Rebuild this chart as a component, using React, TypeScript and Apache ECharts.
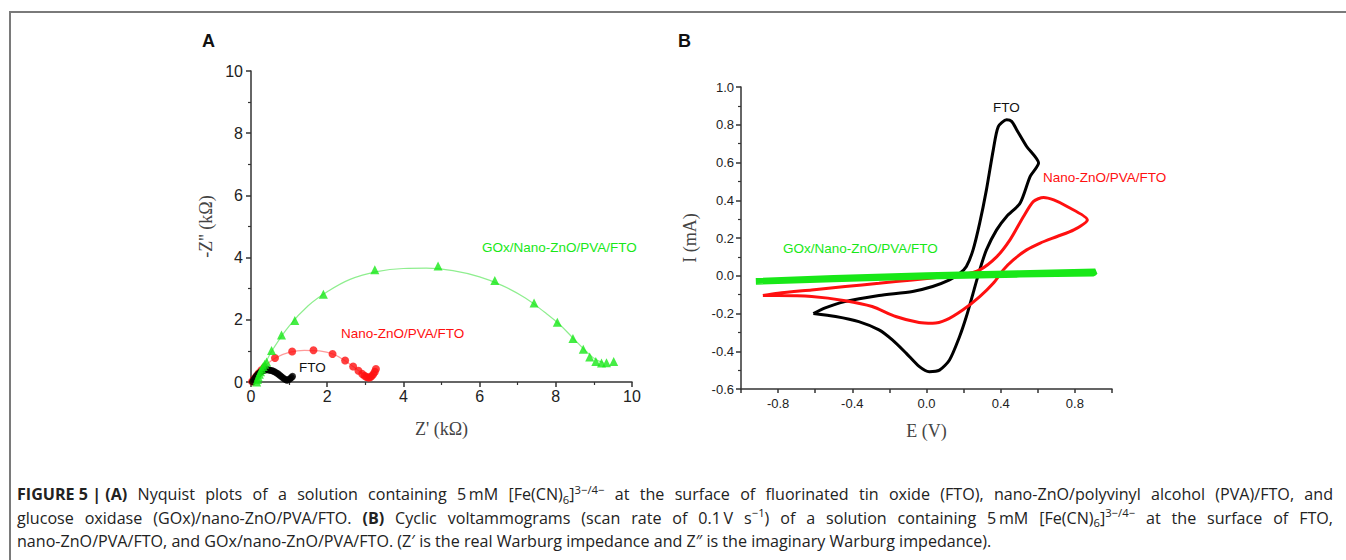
import React, { useEffect, useRef } from "react";
import * as echarts from "echarts";

// ---------- Panel A (Nyquist) ----------
const ftoNyquist = [
  [0.04, 0.01], [0.07, 0.07], [0.1, 0.13], [0.14, 0.19], [0.18, 0.25], [0.22, 0.29], [0.26, 0.33],
  [0.3, 0.36], [0.34, 0.38], [0.38, 0.39], [0.42, 0.4], [0.46, 0.39], [0.5, 0.38], [0.54, 0.37],
  [0.58, 0.35], [0.62, 0.33], [0.66, 0.3], [0.7, 0.27], [0.74, 0.23], [0.78, 0.19], [0.82, 0.15],
  [0.86, 0.11], [0.9, 0.08], [0.94, 0.06], [0.98, 0.07], [1.02, 0.1], [1.06, 0.14], [1.09, 0.18],
];
const znoNyquist = [
  [0.03, 0.02], [0.08, 0.1], [0.14, 0.19], [0.2, 0.28], [0.27, 0.38], [0.35, 0.47], [0.63, 0.77],
  [1.08, 0.98], [1.64, 1.02], [2.14, 0.9], [2.47, 0.69], [2.68, 0.5], [2.82, 0.36], [2.92, 0.26],
  [2.98, 0.2], [3.03, 0.16], [3.08, 0.14], [3.13, 0.15], [3.17, 0.19], [3.21, 0.25], [3.25, 0.33],
  [3.28, 0.42],
];
const znoFit = [
  [0.02, 0], [0.2, 0.3], [0.4, 0.55], [0.65, 0.78], [1.0, 0.95], [1.4, 1.02], [1.8, 1.0],
  [2.15, 0.9], [2.45, 0.7], [2.7, 0.48], [2.9, 0.3], [3.05, 0.18],
];
const goxNyquist = [
  [0.15, 0.0], [0.17, 0.08], [0.19, 0.16], [0.22, 0.25], [0.25, 0.33], [0.28, 0.42], [0.32, 0.5],
  [0.36, 0.57], [0.41, 0.64], [0.54, 1.01], [0.8, 1.51], [1.15, 1.98], [1.9, 2.82], [3.25, 3.61],
  [4.91, 3.73], [6.4, 3.26], [7.43, 2.54], [8.04, 1.92], [8.45, 1.4], [8.72, 1.05], [8.89, 0.8],
  [9.05, 0.66], [9.2, 0.61], [9.33, 0.62], [9.52, 0.66],
];
const goxFit = [
  [0.15, 0], [0.35, 0.55], [0.6, 1.1], [1.0, 1.8], [1.5, 2.45], [2.0, 2.9], [2.6, 3.3], [3.3, 3.55],
  [4.0, 3.65], [4.6, 3.66], [5.3, 3.58], [6.0, 3.38], [6.6, 3.1], [7.2, 2.7], [7.7, 2.25],
  [8.1, 1.85], [8.5, 1.35], [8.8, 0.98], [9.05, 0.72], [9.25, 0.62],
];

// ---------- Panel B (cyclic voltammograms) ----------
const ftoCV = [
  [-0.61, -0.2], [-0.546, -0.17], [-0.44, -0.137], [-0.256, -0.105], [-0.075, -0.083], [0.033, -0.057],
  [0.124, -0.022], [0.18, 0.013], [0.215, 0.049], [0.251, 0.137], [0.287, 0.28], [0.323, 0.455],
  [0.36, 0.667], [0.387, 0.79], [0.432, 0.826], [0.459, 0.818], [0.486, 0.774], [0.54, 0.685],
  [0.604, 0.597], [0.559, 0.526], [0.505, 0.385], [0.432, 0.314], [0.378, 0.243], [0.323, 0.137],
  [0.287, 0.031], [0.251, -0.093], [0.215, -0.216], [0.178, -0.323], [0.124, -0.446], [0.07, -0.5],
  [0.015, -0.508], [-0.04, -0.48], [-0.11, -0.41], [-0.184, -0.34], [-0.256, -0.287], [-0.365, -0.243],
  [-0.49, -0.216], [-0.61, -0.2],
];
const znoCV = [
  [-0.882, -0.105], [-0.8, -0.093], [-0.619, -0.075], [-0.438, -0.057], [-0.256, -0.04], [-0.075, -0.022],
  [0.106, -0.004], [0.197, 0.005], [0.287, 0.031], [0.378, 0.1], [0.45, 0.19], [0.523, 0.314],
  [0.577, 0.394], [0.631, 0.415], [0.686, 0.402], [0.758, 0.367], [0.867, 0.296], [0.794, 0.243],
  [0.704, 0.208], [0.613, 0.173], [0.54, 0.137], [0.468, 0.084], [0.414, 0.031], [0.36, -0.04],
  [0.287, -0.11], [0.197, -0.18], [0.106, -0.234], [0.033, -0.252], [-0.04, -0.248], [-0.166, -0.216],
  [-0.293, -0.163], [-0.438, -0.132], [-0.619, -0.11], [-0.8, -0.105], [-0.882, -0.105],
];
const goxCV = [
  [-0.92, -0.028], [-0.5, -0.012], [0, 0.003], [0.5, 0.013], [0.91, 0.022], [0.9, 0.012],
  [0.5, 0.006], [0, -0.004], [-0.5, -0.018], [-0.92, -0.032],
];

const captionLines = [
  "{b|FIGURE 5 | (A)} Nyquist plots of a solution containing 5\u2009mM [Fe(CN){sub|6}]{sup|3\u2212/4\u2212} at the surface of fluorinated tin oxide (FTO), nano-ZnO/polyvinyl alcohol (PVA)/FTO, and",
  "glucose oxidase (GOx)/nano-ZnO/PVA/FTO. {b|(B)} Cyclic voltammograms (scan rate of 0.1\u2009V s{sup|\u22121}) of a solution containing 5\u2009mM [Fe(CN){sub|6}]{sup|3\u2212/4\u2212} at the surface of FTO,",
  "nano-ZnO/PVA/FTO, and GOx/nano-ZnO/PVA/FTO. (Z\u2032 is the real Warburg impedance and Z\u2033 is the imaginary Warburg impedance).",
];

const BLACK = "#000000";
const RED = "#ff1010";
const GREEN = "#18e818";
const AXIS = "#333333";
const SANS = "'Liberation Sans', Arial, Helvetica, sans-serif";
const SERIF = "'Liberation Serif', 'Times New Roman', serif";
const CAP_FAMILY = "'Open Sans', 'Liberation Sans', sans-serif";

// caption layout helpers (text measurement only)
const CAP_LEFT = 17;
const CAP_RIGHT = 1333;
const LAST_LINE_RIGHT = 992;

function splitTokens(markup: string) {
  const out: { style: string; text: string }[] = [];
  const re = /\{(\w+)\|([^}]*)\}/g;
  let last = 0;
  let m: RegExpExecArray | null;
  while ((m = re.exec(markup))) {
    if (m.index > last) out.push({ style: "n", text: markup.slice(last, m.index) });
    out.push({ style: m[1], text: m[2] });
    last = m.index + m[0].length;
  }
  if (last < markup.length) out.push({ style: "n", text: markup.slice(last) });
  return out;
}

export default function App() {
  const ref = useRef<HTMLDivElement>(null);
  useEffect(() => {
    if (!ref.current) return;
    const chart = echarts.init(ref.current, null, { renderer: "svg" });

    const ctx = document.createElement("canvas").getContext("2d")!;
    const fontFor = (style: string, size: number) => {
      if (style === "b") return `bold ${size}px ${CAP_FAMILY}`;
      if (style === "sub" || style === "sup") return `${size * 0.7}px ${CAP_FAMILY}`;
      return `${size}px ${CAP_FAMILY}`;
    };
    const measure = (markup: string, size: number) =>
      splitTokens(markup).reduce((s, t) => {
        ctx.font = fontFor(t.style, size);
        return s + ctx.measureText(t.text).width;
      }, 0);

    const probe = 15;
    const w3 = measure(captionLines[2], probe);
    const capSize = Math.max(12, Math.min(18, probe * (LAST_LINE_RIGHT - CAP_LEFT) / w3));

    const captionRich = {
      b: { fontWeight: "bold", fontSize: capSize, fontFamily: CAP_FAMILY, color: "#222" },
      sub: { fontSize: capSize * 0.7, fontFamily: CAP_FAMILY, color: "#222", verticalAlign: "bottom", lineHeight: 15 },
      sup: { fontSize: capSize * 0.7, fontFamily: CAP_FAMILY, color: "#222", verticalAlign: "top", lineHeight: 15 },
    };
    const capStyle = (text: string) => ({
      text, fontFamily: CAP_FAMILY, fontSize: capSize, fill: "#222", verticalAlign: "middle",
      lineHeight: 21, rich: captionRich,
    });

    const captionGraphics: any[] = [];
    captionLines.forEach((line, i) => {
      const y = 494 + i * 23.5;
      if (i === captionLines.length - 1) {
        captionGraphics.push({ type: "text", x: CAP_LEFT, y, style: capStyle(line) });
        return;
      }
      // justified line: words are separated by plain spaces outside of markup braces
      const words: string[] = [];
      let cur = "";
      let depth = 0;
      for (const ch of line) {
        if (ch === "{") depth++;
        if (ch === "}") depth--;
        if (ch === " " && depth === 0) {
          if (cur) words.push(cur);
          cur = "";
        } else cur += ch;
      }
      if (cur) words.push(cur);
      // merge "{b|FIGURE" style pieces back: bold group contains spaces inside braces already
      const widths = words.map((w) => measure(w, capSize));
      const total = widths.reduce((a, b) => a + b, 0);
      const gap = (CAP_RIGHT - CAP_LEFT - total) / (words.length - 1);
      let x = CAP_LEFT;
      words.forEach((w, k) => {
        captionGraphics.push({ type: "text", x, y, style: capStyle(w) });
        x += widths[k] + gap;
      });
    });

    const axisCommon = {
      axisLine: { onZero: false, lineStyle: { color: AXIS, width: 1.5 } },
      axisTick: { show: true, inside: false, length: 5, lineStyle: { color: AXIS, width: 1.5 } },
      splitLine: { show: false },
    };

    chart.setOption({
      animation: false,
      backgroundColor: "#ffffff",
      grid: [
        { left: 251, top: 71, width: 381, height: 311 },
        { left: 741, top: 87, width: 371, height: 302 },
      ],
      xAxis: [
        {
          gridIndex: 0, type: "value", min: 0, max: 10, interval: 2,
          name: "Z' (k\u03A9)", nameLocation: "middle", nameGap: 38,
          nameTextStyle: { fontFamily: SERIF, fontSize: 18, color: "#444" },
          axisLabel: { fontFamily: SANS, fontSize: 16, color: "#222", margin: 6 },
          minorTick: { show: true, splitNumber: 2, length: 3, lineStyle: { color: AXIS, width: 1.2 } },
          ...axisCommon,
        },
        {
          gridIndex: 1, type: "value", min: -1, max: 1, interval: 0.2,
          name: "E (V)", nameLocation: "middle", nameGap: 33,
          nameTextStyle: { fontFamily: SERIF, fontSize: 18, color: "#444" },
          axisLabel: {
            fontFamily: SANS, fontSize: 13, color: "#222", margin: 8,
            formatter: (v: number) => (Math.round(v / 0.2) % 2 === 0 ? v.toFixed(1) : ""),
          },
          ...axisCommon,
          axisTick: { show: true, length: 4, lineStyle: { color: AXIS, width: 1.5 } },
        },
      ],
      yAxis: [
        {
          gridIndex: 0, type: "value", min: 0, max: 10, interval: 2,
          name: "-Z'' (k\u03A9)", nameLocation: "middle", nameGap: 36,
          nameTextStyle: { fontFamily: SERIF, fontSize: 18, color: "#444" },
          axisLabel: { fontFamily: SANS, fontSize: 16, color: "#222", margin: 8 },
          minorTick: { show: true, splitNumber: 2, length: 3, lineStyle: { color: AXIS, width: 1.2 } },
          ...axisCommon,
        },
        {
          gridIndex: 1, type: "value", min: -0.6, max: 1.0, interval: 0.2,
          name: "I (mA)", nameLocation: "middle", nameGap: 42,
          nameTextStyle: { fontFamily: SERIF, fontSize: 18, color: "#444" },
          axisLabel: {
            fontFamily: SANS, fontSize: 13, color: "#222", margin: 7,
            formatter: (v: number) => v.toFixed(1),
          },
          minorTick: { show: true, splitNumber: 2, length: 3, lineStyle: { color: AXIS, width: 1.2 } },
          ...axisCommon,
        },
      ],
      series: [
        {
          name: "GOx fit", type: "line", xAxisIndex: 0, yAxisIndex: 0, data: goxFit, smooth: 0.4,
          showSymbol: false, lineStyle: { color: "#8fee8f", width: 1.2 }, z: 1,
        },
        {
          name: "Nano-ZnO fit", type: "line", xAxisIndex: 0, yAxisIndex: 0, data: znoFit, smooth: 0.4,
          showSymbol: false, lineStyle: { color: "#ff9a9a", width: 1.2 }, z: 1,
        },
        {
          name: "FTO", type: "scatter", xAxisIndex: 0, yAxisIndex: 0, data: ftoNyquist,
          symbol: "circle", symbolSize: 7, itemStyle: { color: BLACK }, z: 3,
        },
        {
          name: "Nano-ZnO/PVA/FTO", type: "scatter", xAxisIndex: 0, yAxisIndex: 0, data: znoNyquist,
          symbol: "circle", symbolSize: 8, itemStyle: { color: RED }, z: 2,
        },
        {
          name: "GOx/Nano-ZnO/PVA/FTO", type: "scatter", xAxisIndex: 0, yAxisIndex: 0, data: goxNyquist,
          symbol: "triangle", symbolSize: 9, itemStyle: { color: GREEN }, z: 4,
        },
        {
          name: "FTO CV", type: "line", xAxisIndex: 1, yAxisIndex: 1, data: ftoCV, smooth: 0.25,
          showSymbol: false, lineStyle: { color: BLACK, width: 3 }, z: 2,
        },
        {
          name: "Nano-ZnO CV", type: "line", xAxisIndex: 1, yAxisIndex: 1, data: znoCV, smooth: 0.25,
          showSymbol: false, lineStyle: { color: RED, width: 3 }, z: 3,
        },
        {
          name: "GOx CV", type: "line", xAxisIndex: 1, yAxisIndex: 1, data: goxCV, smooth: 0,
          showSymbol: false, lineStyle: { color: GREEN, width: 6 }, z: 4,
        },
      ],
      graphic: [
        { type: "polyline", shape: { points: [[10, 560], [10, 12], [1346, 12]] }, style: { stroke: "#7a7a7a", lineWidth: 2, fill: null } },
        { type: "text", x: 202, y: 32, style: { text: "A", fontFamily: SANS, fontWeight: "bold", fontSize: 18, fill: "#111" } },
        { type: "text", x: 678, y: 32, style: { text: "B", fontFamily: SANS, fontWeight: "bold", fontSize: 18, fill: "#111" } },
        { type: "text", x: 482, y: 247, style: { text: "GOx/Nano-ZnO/PVA/FTO", fontFamily: SANS, fontSize: 13.5, fill: GREEN, verticalAlign: "middle" } },
        { type: "text", x: 341, y: 333, style: { text: "Nano-ZnO/PVA/FTO", fontFamily: SANS, fontSize: 13.5, fill: RED, verticalAlign: "middle" } },
        { type: "text", x: 299, y: 367, style: { text: "FTO", fontFamily: SANS, fontSize: 13.5, fill: "#111", verticalAlign: "middle" } },
        { type: "text", x: 993, y: 107, style: { text: "FTO", fontFamily: SANS, fontSize: 13.5, fill: "#111", verticalAlign: "middle" } },
        { type: "text", x: 1043, y: 177, style: { text: "Nano-ZnO/PVA/FTO", fontFamily: SANS, fontSize: 13.5, fill: RED, verticalAlign: "middle" } },
        { type: "text", x: 783, y: 248, style: { text: "GOx/Nano-ZnO/PVA/FTO", fontFamily: SANS, fontSize: 13.5, fill: GREEN, verticalAlign: "middle" } },
        ...captionGraphics,
      ],
    });
    return () => chart.dispose();
  }, []);
  return <div ref={ref} style={{ position: "absolute", left: 0, top: 0, width: 1346, height: 560 }} />;
}
